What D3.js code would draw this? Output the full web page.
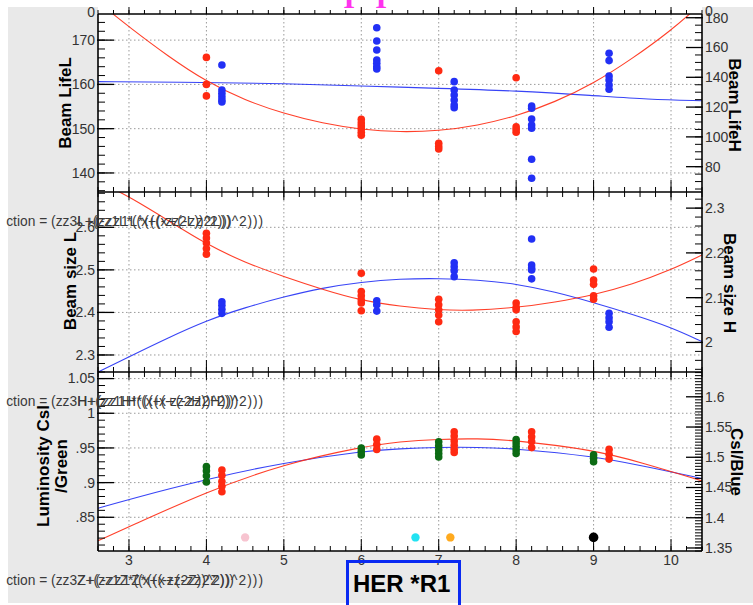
<!DOCTYPE html>
<html>
<head>
<meta charset="utf-8">
<script src="https://cdn.jsdelivr.net/npm/d3@7"></script>
<style>
  html, body { margin: 0; padding: 0; background: #fff; }
  svg { display: block; font-family: "Liberation Sans", Arial, sans-serif; }
</style>
</head>
<body>
<svg id="chart" width="753" height="605"></svg>
<script>
// ---- data -------------------------------------------------------------
const xTicks = [3, 4, 5, 6, 7, 8, 9, 10];

// Beam lifetime (top panel)
const lifeLTicks = [140, 150, 160, 170];
const lifeHTicks = [80, 100, 120, 140, 160, 180];
const lifeLPoints = [[4,166.1],[4,160.0],[4,157.4],
  [6,152.1],[6,151.3],[6,150.6],[6,149.9],[6,149.2],[6,148.5],
  [7,163.1],[7,146.7],[7,146.0],[7,145.4],
  [8,161.5],[8,150.4],[8,149.8],[8,149.2]];
const lifeHPoints = [[4.2,148.3],[4.2,131.5],[4.2,129.3],[4.2,127.0],[4.2,124.8],[4.2,123.4],
  [6.2,173.3],[6.2,164.4],[6.2,158.3],[6.2,151.6],[6.2,149.4],[6.2,147.1],[6.2,145.6],
  [7.2,137.1],[7.2,131.5],[7.2,128.1],[7.2,124.8],[7.2,121.4],[7.2,119.6],
  [8.2,120.7],[8.2,119.2],[8.2,112.0],[8.2,108.0],[8.2,105.8],[8.2,85.0],[8.2,72.2],
  [9.2,156.1],[9.2,151.2],[9.2,140.9],[9.2,138.2],[9.2,134.8],[9.2,132.0]];
const lifeLFit = [[2.75,176.5],[3,173.0],[3.5,166.4],[4,160.6],[4.5,156.4],[5,153.4],[5.5,151.2],
  [6,149.8],[6.5,149.2],[7,149.5],[7.5,150.7],[8,152.8],[8.5,156.0],[9,160.2],[9.5,165.8],
  [10,172.2],[10.3,176.8]];
const lifeHFit = [[2.6,137.1],[4,136.6],[5,135.8],[6,134.2],[7,132.6],[8,131.0],[9,127.8],
  [9.7,125.2],[10.4,124.3]];

// Beam size (middle panel)
const sizeLTicks = [2.3, 2.4, 2.5, 2.6];
const sizeHTicks = [2.0, 2.1, 2.2, 2.3];
const sizeLPoints = [[4,2.586],[4,2.575],[4,2.563],[4,2.550],[4,2.537],
  [6,2.492],[6,2.449],[6,2.439],[6,2.429],[6,2.422],[6,2.404],
  [7,2.431],[7,2.418],[7,2.406],[7,2.394],[7,2.378],
  [8,2.422],[8,2.412],[8,2.406],[8,2.378],[8,2.366],[8,2.355],
  [9,2.502],[9,2.476],[9,2.466],[9,2.439],[9,2.431]];
const sizeHPoints = [[4.2,2.091],[4.2,2.083],[4.2,2.074],[4.2,2.065],
  [6.2,2.093],[6.2,2.084],[6.2,2.070],
  [7.2,2.178],[7.2,2.169],[7.2,2.160],[7.2,2.147],
  [8.2,2.231],[8.2,2.173],[8.2,2.166],[8.2,2.162],[8.2,2.142],
  [9.2,2.065],[9.2,2.055],[9.2,2.046],[9.2,2.034]];
const sizeLFit = [[2.8,2.69],[3,2.672],[3.5,2.617],[4,2.560],[4.5,2.517],[5,2.484],[5.5,2.454],
  [6,2.428],[6.5,2.414],[7,2.406],[7.4,2.404],[8,2.411],[8.5,2.424],[9,2.441],[9.5,2.466],
  [10,2.500],[10.4,2.535]];
const sizeHFit = [[2.6,1.934],[3,1.968],[3.5,2.010],[4,2.049],[4.5,2.078],[5,2.102],[5.5,2.122],
  [6,2.135],[6.5,2.142],[7,2.143],[7.5,2.140],[8,2.131],[8.5,2.113],[9,2.089],[9.5,2.063],
  [10,2.034],[10.4,2.002]];

// Luminosity (bottom panel)
const lumGreenTicks = [0.85, 0.9, 0.95, 1.0, 1.05];
const lumGreenLabels = [".85", ".9", ".95", "1", "1.05"];
const lumBlueTicks = [1.35, 1.4, 1.45, 1.5, 1.55, 1.6];
const lumGreenPoints = [[4,0.923],[4,0.917],[4,0.910],[4,0.901],
  [6,0.950],[6,0.945],[6,0.940],
  [7,0.959],[7,0.953],[7,0.947],[7,0.942],[7,0.937],
  [8,0.962],[8,0.957],[8,0.952],[8,0.947],[8,0.942],
  [9,0.940],[9,0.935],[9,0.930]];
const lumBluePoints = [[4.2,1.479],[4.2,1.470],[4.2,1.460],[4.2,1.452],[4.2,1.443],
  [6.2,1.530],[6.2,1.521],[6.2,1.513],
  [7.2,1.542],[7.2,1.535],[7.2,1.527],[7.2,1.520],[7.2,1.513],[7.2,1.508],
  [8.2,1.542],[8.2,1.534],[8.2,1.526],[8.2,1.516],
  [9.2,1.513],[9.2,1.505],[9.2,1.497]];
const lumGreenFit = [[2.6,0.863],[3,0.876],[4,0.905],[5,0.929],[6,0.945],[6.5,0.949],
  [7,0.951],[7.5,0.951],[8,0.949],[9,0.938],[9.6,0.925],[10.4,0.906]];
const lumBlueFit = [[2.6,1.362],[3,1.385],[4,1.443],[5,1.489],[6,1.517],[6.5,1.526],
  [7,1.530],[7.5,1.531],[8,1.528],[9,1.512],[9.6,1.492],[10.4,1.461]];
const markerX = [4.5, 6.7, 7.15, 9];
const markerY = [0.821, 0.821, 0.821, 0.821];

// ---- layout -----------------------------------------------------------
const W = 753, H = 605;
const L = 98, R = 702;
const svg = d3.select("#chart");
const C = { red: "#ff2a12", blue: "#2230f5", green: "#0c6b14", grid: "#9a9a9a", frame: "#e9e9e9", text: "#333" };
const markerColors = ["#f7c4d0", "#22e2f2", "#ffaa1e", "#000"];

const x = d3.scaleLinear().domain([2.6, 10.4]).range([L, R]);

const panels = [
  { top: 14, bottom: 192,
    yl: d3.scaleLinear().domain([135.7, 175.9]), yr: d3.scaleLinear().domain([63, 182.5]),
    lt: lifeLTicks, lminor: 2, rt: lifeHTicks, rminor: 5 },
  { top: 192, bottom: 372,
    yl: d3.scaleLinear().domain([2.26, 2.683]), yr: d3.scaleLinear().domain([1.934, 2.336]),
    lt: sizeLTicks, lminor: 0.02, rt: sizeHTicks, rminor: 0.02 },
  { top: 372, bottom: 551,
    yl: d3.scaleLinear().domain([0.8014, 1.0595]), yr: d3.scaleLinear().domain([1.345, 1.641]),
    lt: lumGreenTicks, lminor: 0.01, rt: lumBlueTicks, rminor: 0.005 }
];
panels.forEach(p => { p.yl.range([p.bottom, p.top]); p.yr.range([p.bottom, p.top]); });

// ---- frame background --------------------------------------------------
svg.append("rect").attr("x", 8).attr("y", 7).attr("width", L - 8).attr("height", 596).attr("fill", C.frame);
svg.append("rect").attr("x", R).attr("y", 7).attr("width", W - R).attr("height", 596).attr("fill", C.frame);
svg.append("rect").attr("x", L).attr("y", 551).attr("width", R - L).attr("height", 52).attr("fill", C.frame);

// clipped title glyphs peeking in at the top
svg.selectAll("text.peek").data([349, 381]).join("text")
  .attr("x", d => d).attr("y", 7.5).attr("text-anchor", "middle")
  .style("font-family", "'Liberation Serif', 'DejaVu Serif', serif").style("font-weight", "bold")
  .style("font-size", "30px").attr("fill", "#ff33ee").text("I");

const defs = svg.append("defs");
panels.forEach((p, i) => {
  defs.append("clipPath").attr("id", "clip" + i).append("rect")
    .attr("x", L).attr("y", p.top).attr("width", R - L).attr("height", p.bottom - p.top);
});
defs.append("clipPath").attr("id", "capclip").append("rect")
  .attr("x", 6).attr("y", 0).attr("width", W - 6).attr("height", H);

function minorRange(dom, step) {
  const lo = Math.min(dom[0], dom[1]), hi = Math.max(dom[0], dom[1]);
  const out = [];
  for (let k = Math.ceil(lo / step - 1e-9); k * step <= hi + 1e-9; k++) out.push(+(k * step).toFixed(6));
  return out;
}

// ---- grid --------------------------------------------------------------
panels.forEach(p => {
  const g = svg.append("g").attr("stroke", C.grid).attr("stroke-width", 1).attr("stroke-dasharray", "1.5,2.5");
  g.selectAll("line.v").data(xTicks).join("line")
    .attr("x1", d => x(d)).attr("x2", d => x(d)).attr("y1", p.top).attr("y2", p.bottom);
  g.selectAll("line.h").data(p.lt).join("line")
    .attr("x1", L).attr("x2", R).attr("y1", d => p.yl(d)).attr("y2", d => p.yl(d));
});

// ---- fit curves and points ----------------------------------------------
function drawCurve(i, data, scale, color) {
  const line = d3.line().x(d => x(d[0])).y(d => scale(d[1])).curve(d3.curveBasis);
  svg.append("path").attr("clip-path", `url(#clip${i})`).attr("d", line(data))
    .attr("fill", "none").attr("stroke", color).attr("stroke-width", 1.1).attr("opacity", 0.9);
}
function drawPoints(data, scale, color, r) {
  svg.append("g").selectAll("circle").data(data).join("circle")
    .attr("cx", d => x(d[0])).attr("cy", d => scale(d[1])).attr("r", r).attr("fill", color);
}
const [P1, P2, P3] = panels;
drawCurve(0, lifeHFit, P1.yr, C.blue);
drawCurve(0, lifeLFit, P1.yl, C.red);
drawPoints(lifeLPoints, P1.yl, C.red, 3.8);
drawPoints(lifeHPoints, P1.yr, C.blue, 3.8);

drawCurve(1, sizeHFit, P2.yr, C.blue);
drawCurve(1, sizeLFit, P2.yl, C.red);
drawPoints(sizeLPoints, P2.yl, C.red, 3.8);
drawPoints(sizeHPoints, P2.yr, C.blue, 3.8);

drawCurve(2, lumGreenFit, P3.yl, C.blue);
drawCurve(2, lumBlueFit, P3.yr, C.red);
drawPoints(lumGreenPoints, P3.yl, C.green, 3.8);
drawPoints(lumBluePoints, P3.yr, C.red, 3.8);
svg.append("g").selectAll("circle").data(markerX).join("circle")
  .attr("cx", d => x(d)).attr("cy", (d, i) => P3.yl(markerY[i]))
  .attr("r", (d, i) => i === 3 ? 4.8 : 4.2).attr("fill", (d, i) => markerColors[i]);

// ---- axes --------------------------------------------------------------
const ax = svg.append("g").attr("stroke", "#000");
function tick(x1, y1, x2, y2, w) {
  ax.append("line").attr("x1", x1).attr("y1", y1).attr("x2", x2).attr("y2", y2).attr("stroke-width", w || 1);
}
// frame lines
tick(L, 14, L, 551, 1.6);
tick(R, 14, R, 551, 1.6);
[14, 192, 372, 551].forEach(y => tick(L, y, R, y, 1.6));

const xMinor = minorRange([2.6, 10.4], 0.2);
// top of the first panel: ticks outward
xMinor.forEach(v => tick(x(v), 14, x(v), 10));
xTicks.forEach(v => tick(x(v), 14, x(v), 7));
// panel boundaries
[192, 372].forEach(y => {
  xMinor.forEach(v => tick(x(v), y - 5, x(v), y + 5));
  xTicks.forEach(v => tick(x(v), y - 12, x(v), y + 8));
});
xMinor.forEach(v => tick(x(v), 551, x(v), 546));
xTicks.forEach(v => tick(x(v), 551, x(v), 539));

panels.forEach(p => {
  minorRange(p.yl.domain(), p.lminor).forEach(v => tick(L, p.yl(v), L + 7, p.yl(v)));
  p.lt.forEach(v => tick(L - 1, p.yl(v), L + 16, p.yl(v), 1.3));
  minorRange(p.yr.domain(), p.rminor).forEach(v => tick(R - 7, p.yr(v), R, p.yr(v)));
  p.rt.forEach(v => tick(R - 16, p.yr(v), R + 1, p.yr(v), 1.3));
});

// ---- tick labels ---------------------------------------------------------
const lab = svg.append("g").style("font-size", "14px").attr("fill", C.text);
const fmt = d3.format("~g");
panels.forEach((p, i) => {
  const leftText = i === 2 ? lumGreenLabels : p.lt.map(fmt);
  lab.append("g").selectAll("text").data(p.lt).join("text")
    .attr("x", 95).attr("y", d => p.yl(d)).attr("dy", "0.35em").attr("text-anchor", "end")
    .text((d, k) => leftText[k]);
  lab.append("g").selectAll("text").data(p.rt).join("text")
    .attr("x", 705).attr("y", d => p.yr(d)).attr("dy", "0.35em")
    .text(d => fmt(d));
});
lab.append("text").attr("x", 95).attr("y", 12).attr("dy", "0.35em").attr("text-anchor", "end").text("0");
lab.append("text").attr("x", 705).attr("y", 11).attr("dy", "0.35em").text("0");
lab.append("g").selectAll("text").data(xTicks).join("text")
  .attr("x", d => x(d)).attr("y", 560).attr("dy", "0.35em").attr("text-anchor", "middle").text(d => d);

// ---- axis titles ---------------------------------------------------------
const tt = svg.append("g").style("font-size", "17px").style("font-weight", "bold").attr("fill", "#000");
function vTitle(cx, cy, rot, lines) {
  const t = tt.append("text").attr("transform", `translate(${cx},${cy}) rotate(${rot})`)
    .attr("text-anchor", "middle");
  lines.forEach((s, k) => {
    t.append("tspan").attr("x", 0).attr("y", (k - (lines.length - 1) / 2) * 18).attr("dy", "0.35em").text(s);
  });
}
vTitle(65, 103, -90, ["Beam LifeL"]);
vTitle(70, 281, -90, ["Beam size L"]);
vTitle(52, 466, -90, ["Luminosity CsI", "/Green"]);
vTitle(735, 105, 90, ["Beam LifeH"]);
vTitle(730, 283, 90, ["Beam size H"]);
vTitle(737, 462, 90, ["CsI/Blue"]);

// ---- overlaid fit-function captions --------------------------------------
function caption(y, prefix, a, b) {
  const g = svg.append("g").attr("clip-path", "url(#capclip)")
    .style("font-size", "13.8px").attr("fill", "#3a3a3a");
  const x0 = -13;
  const p = g.append("text").attr("x", x0).attr("y", y).text(prefix);
  const w = p.node().getComputedTextLength();
  g.append("text").attr("x", x0 + w).attr("y", y).text(a);
  g.append("text").attr("x", x0 + w).attr("y", y).attr("textLength", 263 - (x0 + w))
    .attr("lengthAdjust", "spacing").text(b);
}
caption(226, "function = (zz3", "L+(zz1L*((x+(-zz2L))^2)))", "L+(-zz1L*(((x+(-zz2L))^2)))");
caption(406, "function = (zz3", "H+(zz1H*((x+(-zz2H))^2)))", "H+(zz1H*(((x+(-zz2H))^2)))");
caption(585, "function = (zz3", "Z+(zz1Z*((x+(-zz2Z))^2)))", "Z+(-zz1Z*((x+(-zz2Z))^2)))");

// ---- ring label -------------------------------------------------------------
svg.append("rect").attr("x", 347.5).attr("y", 561.5).attr("width", 112).attr("height", 50)
  .attr("fill", "none").attr("stroke", "#0a2af2").attr("stroke-width", 3);
svg.append("text").attr("x", 353).attr("y", 592).style("font-size", "24px").style("font-weight", "bold")
  .attr("fill", "#000").text("HER *R1");
</script>
</body>
</html>
